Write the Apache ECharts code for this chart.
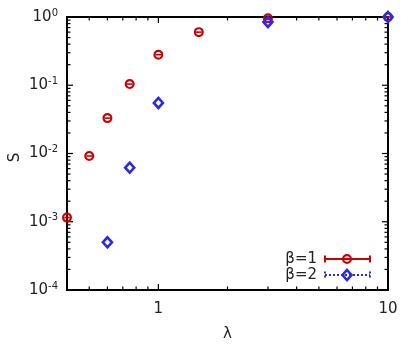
<!DOCTYPE html>
<html>
<head>
<meta charset="utf-8">
<script src="https://cdn.jsdelivr.net/npm/echarts@6/dist/echarts.min.js"></script>
<style>
  html, body { margin: 0; padding: 0; background: #fff; }
  #chart { width: 415px; height: 344px; }
</style>
</head>
<body>
<div id="chart"></div>
<script>
// beta = 1
const lambda1 = [0.4, 0.5, 0.6, 0.75, 1, 1.5, 3, 10];
const s1 = [1.15e-3, 9.2e-3, 0.033, 0.104, 0.28, 0.6, 0.955, 1.0];
// beta = 2
const lambda2 = [0.6, 0.75, 1, 3, 10];
const s2 = [5.0e-4, 6.2e-3, 0.055, 0.845, 1.0];

const xMajorTicks = [1, 10];
const xMinorTicks = [0.5, 0.6, 0.7, 0.8, 0.9, 2, 3, 4, 5, 6, 7, 8, 9];
const yMajorTicks = [1e-4, 1e-3, 1e-2, 1e-1, 1];
const mantissas = [2, 3, 4, 5, 6, 7, 8, 9];

const red = '#cc0000';
const blue = '#2a2ae6';
const textColor = '#222';

// tick rows: [x, y, axis(0=x,1=y), length]
const tickData = [];
xMajorTicks.forEach(v => tickData.push([v, 0.1, 0, 6]));
xMinorTicks.forEach(v => tickData.push([v, 0.1, 0, 3.5]));
yMajorTicks.forEach(v => tickData.push([1, v, 1, 6]));
yMajorTicks.slice(0, -1).forEach(d => mantissas.forEach(m => tickData.push([1, d * m, 1, 3.5])));

function renderTick(params, api) {
  const cs = params.coordSys;
  const p = api.coord([api.value(0), api.value(1)]);
  const len = api.value(3);
  const st = { stroke: '#000', lineWidth: 1.2 };
  if (api.value(2) === 0) {
    return { type: 'group', children: [
      { type: 'line', shape: { x1: p[0], y1: cs.y, x2: p[0], y2: cs.y + len }, style: st },
      { type: 'line', shape: { x1: p[0], y1: cs.y + cs.height, x2: p[0], y2: cs.y + cs.height - len }, style: st }
    ] };
  }
  return { type: 'group', children: [
    { type: 'line', shape: { x1: cs.x, y1: p[1], x2: cs.x + len, y2: p[1] }, style: st },
    { type: 'line', shape: { x1: cs.x + cs.width, y1: p[1], x2: cs.x + cs.width - len, y2: p[1] }, style: st }
  ] };
}

function circleMark(x, y) {
  return [
    { type: 'circle', shape: { cx: x, cy: y, r: 3.9 }, style: { fill: 'none', stroke: red, lineWidth: 2.2 } },
    { type: 'line', shape: { x1: x - 2.8, y1: y, x2: x + 2.8, y2: y }, style: { stroke: red, lineWidth: 1.6 } }
  ];
}

function diamondMark(x, y) {
  return [
    { type: 'polygon', shape: { points: [[x, y - 5], [x + 4.5, y], [x, y + 5], [x - 4.5, y]] },
      style: { fill: 'none', stroke: blue, lineWidth: 2.6 } }
  ];
}

function renderCircle(params, api) {
  const p = api.coord([api.value(0), api.value(1)]);
  return { type: 'group', children: circleMark(p[0], p[1]) };
}

function renderDiamond(params, api) {
  const p = api.coord([api.value(0), api.value(1)]);
  return { type: 'group', children: diamondMark(p[0], p[1]) };
}

function legendRow(y, color, dashed, marks) {
  const st = { stroke: color, lineWidth: 2, lineDash: dashed ? [2, 2] : null };
  return [
    { type: 'line', shape: { x1: 325, y1: y, x2: 370, y2: y }, style: st },
    { type: 'line', shape: { x1: 325, y1: y - 3.5, x2: 325, y2: y + 3.5 }, style: st },
    { type: 'line', shape: { x1: 370, y1: y - 3.5, x2: 370, y2: y + 3.5 }, style: st }
  ].concat(marks(347, y));
}

const chart = echarts.init(document.getElementById('chart'));

chart.setOption({
  animation: false,
  grid: {
    left: 67, right: 27, top: 17, bottom: 54,
    outerBoundsMode: 'none',
    show: true, borderColor: '#000', borderWidth: 2
  },
  xAxis: {
    type: 'log', logBase: 10, min: 0.4, max: 10,
    name: 'λ', nameLocation: 'middle', nameGap: 37, nameMoveOverlap: false,
    nameTextStyle: { fontFamily: 'DejaVu Sans', fontSize: 15, color: textColor },
    axisLine: { show: false }, axisTick: { show: false }, splitLine: { show: false },
    axisLabel: {
      margin: 12, fontFamily: 'DejaVu Sans', fontSize: 15, color: textColor,
      formatter: v => (xMajorTicks.some(t => Math.abs(t - v) < 1e-9) ? String(v) : '')
    }
  },
  yAxis: {
    type: 'log', logBase: 10, min: 1e-4, max: 1,
    name: 'S', nameLocation: 'middle', nameGap: 44, nameRotate: 90, nameMoveOverlap: false,
    nameTextStyle: { fontFamily: 'DejaVu Sans', fontSize: 15, color: textColor, padding: [0, 8, 0, 0] },
    axisLine: { show: false }, axisTick: { show: false }, splitLine: { show: false },
    axisLabel: {
      margin: 9, fontFamily: 'DejaVu Sans', color: textColor,
      formatter: v => '{b|10}{sup|' + Math.round(Math.log10(v)) + '}',
      rich: {
        b: { fontFamily: 'DejaVu Sans', fontSize: 15, color: textColor },
        sup: { fontFamily: 'DejaVu Sans', fontSize: 10, color: textColor, verticalAlign: 'bottom', padding: [0, 0, 8, 0] }
      }
    }
  },
  series: [
    { type: 'custom', renderItem: renderTick, data: tickData, silent: true, z: 1 },
    { name: 'β=1', type: 'custom', renderItem: renderCircle, data: lambda1.map((x, i) => [x, s1[i]]), z: 3 },
    { name: 'β=2', type: 'custom', renderItem: renderDiamond, data: lambda2.map((x, i) => [x, s2[i]]), z: 4 }
  ],
  graphic: [
    { type: 'text', right: 98, top: 252, style: { text: 'β=1', font: '15px "DejaVu Sans"', fill: textColor } },
    { type: 'text', right: 98, top: 268, style: { text: 'β=2', font: '15px "DejaVu Sans"', fill: textColor } },
    { type: 'group', children: legendRow(259, red, false, circleMark) },
    { type: 'group', children: legendRow(275, blue, true, diamondMark) }
  ]
});
</script>
</body>
</html>
